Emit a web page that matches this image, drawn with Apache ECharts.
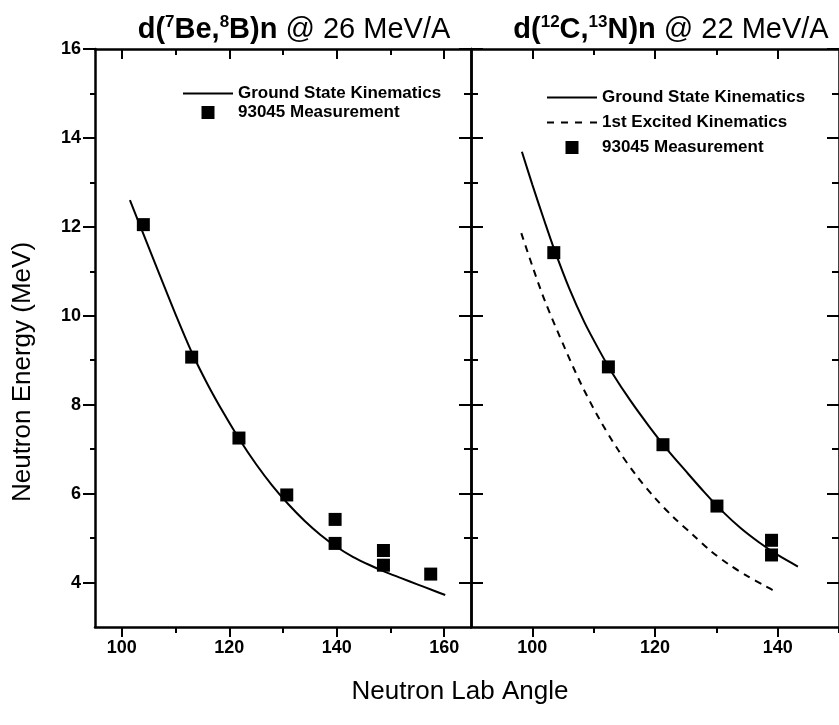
<!DOCTYPE html>
<html><head><meta charset="utf-8">
<script src="https://cdn.jsdelivr.net/npm/echarts@6/dist/echarts.min.js"></script>
<style>html,body{margin:0;padding:0;background:#fff}#c{width:839px;height:725px}</style>
</head><body><div id="c"></div>
<script>
// ---- data ----
const leftCurveAngle  = [101.5, 104, 107, 110, 113, 116, 119, 122, 125, 128, 131, 134, 137, 140, 143, 146, 149, 152, 155, 158, 160.2];
const leftCurveEnergy = [12.6, 11.84, 10.93, 10.03, 9.18, 8.45, 7.8, 7.2, 6.66, 6.18, 5.76, 5.39, 5.07, 4.8, 4.58, 4.4, 4.24, 4.1, 3.96, 3.82, 3.72];
const leftMeasAngle   = [104, 113, 121.8, 130.7, 139.7, 139.7, 148.7, 148.7, 157.5];
const leftMeasEnergy  = [12.05, 9.07, 7.25, 5.97, 5.42, 4.88, 4.72, 4.39, 4.19];

const rightGSAngle    = [98.3, 100, 102, 103.5, 106, 108.5, 110.8, 113, 116, 119, 122, 125, 128, 131, 134, 137, 140, 143.3];
const rightGSEnergy   = [13.69, 12.95, 12.12, 11.52, 10.62, 9.85, 9.25, 8.72, 8.09, 7.52, 6.99, 6.51, 6.04, 5.6, 5.22, 4.9, 4.62, 4.36];
const rightExAngle    = [98.2, 100, 102, 105.3, 108, 111, 114, 117, 120, 123, 126.2, 129, 132, 135, 138, 140];
const rightExEnergy   = [11.86, 11.12, 10.35, 9.27, 8.45, 7.66, 6.98, 6.4, 5.9, 5.47, 5.07, 4.72, 4.41, 4.15, 3.92, 3.77];
const rightMeasAngle  = [103.5, 112.4, 121.3, 130.1, 139, 139];
const rightMeasEnergy = [11.42, 8.85, 7.1, 5.72, 4.95, 4.62];

const xMajorTicks = [100, 120, 140, 160];
const xMinorTicks = [110, 130, 150];
const yMajorTicks = [4, 6, 8, 10, 12, 14, 16];
const yMinorTicks = [5, 7, 9, 11, 13, 15];

const leftTitle  = '{b|d(}{s|7}{b|Be,}{s|8}{b|B)n}{r| @ 26 MeV/A}';
const rightTitle = '{b|d(}{s|12}{b|C,}{s|13}{b|N)n}{r| @ 22 MeV/A}';
const yAxisTitle = 'Neutron Energy (MeV)';
const xAxisTitle = 'Neutron Lab Angle';
const nameGS = 'Ground State Kinematics';
const nameEx = '1st Excited Kinematics';
const nameMeas = '93045 Measurement';

// ---- chart ----
const FONT = '"Liberation Sans", Arial, sans-serif';
const chart = echarts.init(document.getElementById('c'));
const zip = (a, b) => a.map((v, i) => [v, b[i]]);
const lineCol = {color: '#000', width: 2.5};

const xAxes = [], yAxes = [];
function addAxis(list, grid, position, min, max, ticks, len, inside, opts) {
  opts = opts || {};
  list.push({
    type: 'value', gridIndex: grid, position: position, min: min, max: max,
    axisLine: {show: !!opts.line, onZero: false, lineStyle: lineCol},
    axisTick: {show: true, inside: inside, length: len, customValues: ticks, lineStyle: {color: '#000', width: 2}},
    axisLabel: opts.labels ? {show: true, customValues: ticks, color: '#000', fontSize: 18, fontWeight: 'bold', fontFamily: FONT, margin: opts.margin || 10} : {show: false},
    splitLine: {show: false}
  });
  return list.length - 1;
}
const gridRanges = [[95, 165], [90, 150]];
const axisIdx = [];
gridRanges.forEach((r, g) => {
  const xi = addAxis(xAxes, g, 'bottom', r[0], r[1], xMajorTicks.filter(v => v > r[0] && v <= r[1]), 10, false, {line: true, labels: true, margin: 12});
  addAxis(xAxes, g, 'bottom', r[0], r[1], xMinorTicks.filter(v => v > r[0] && v <= r[1]), 6, false, {});
  addAxis(xAxes, g, 'top', r[0], r[1], xMajorTicks.filter(v => v > r[0] && v < r[1]), 10, true, {line: true});
  addAxis(xAxes, g, 'top', r[0], r[1], xMinorTicks.filter(v => v > r[0] && v < r[1]), 6, true, {});
  let yi;
  if (g === 0) {
    yi = addAxis(yAxes, g, 'left', 3, 16, yMajorTicks, 12, false, {line: true, labels: true, margin: 14});
    addAxis(yAxes, g, 'left', 3, 16, yMinorTicks, 5, false, {});
  } else {
    yi = addAxis(yAxes, g, 'left', 3, 16, yMajorTicks, 12, true, {line: true});
    addAxis(yAxes, g, 'left', 3, 16, yMinorTicks, 7, true, {});
  }
  addAxis(yAxes, g, 'right', 3, 16, yMajorTicks, 12, true, {line: true});
  addAxis(yAxes, g, 'right', 3, 16, yMinorTicks, 7, true, {});
  axisIdx.push([xi, yi]);
});

const lineSeries = (name, g, xs, ys, dashed) => ({
  type: 'line', name: name, xAxisIndex: axisIdx[g][0], yAxisIndex: axisIdx[g][1],
  data: zip(xs, ys), symbol: 'none', smooth: 0.3, silent: true,
  lineStyle: {color: '#000', width: 2, type: dashed ? [7, 6] : 'solid'}, itemStyle: {color: '#000'}
});
const measSeries = (g, xs, ys) => ({
  type: 'scatter', name: nameMeas, xAxisIndex: axisIdx[g][0], yAxisIndex: axisIdx[g][1],
  data: zip(xs, ys), symbol: 'rect', symbolSize: 13, itemStyle: {color: '#000', opacity: 1}, silent: true, z: 3
});

const richTitle = {
  b: {fontSize: 29, fontWeight: 'bold', color: '#000', fontFamily: FONT, lineHeight: 32},
  s: {fontSize: 17, fontWeight: 'bold', color: '#000', fontFamily: FONT, verticalAlign: 'top', lineHeight: 32},
  r: {fontSize: 29, fontWeight: 'normal', color: '#000', fontFamily: FONT, lineHeight: 32}
};
const legendText = {fontSize: 17, fontWeight: 'bold', color: '#000', fontFamily: FONT};
const iconSolid  = 'path://M0,0h50v2h-50z';
const iconDashed = 'path://M0,0h7v2h-7z M14,0h7v2h-7z M28,0h7v2h-7z M43,0h7v2h-7z';
const iconSquare = 'path://M0,0h13v13h-13z';

chart.setOption({
  animation: false,
  backgroundColor: '#fff',
  textStyle: {fontFamily: FONT},
  title: [
    {text: leftTitle, left: 289, top: 9, textAlign: 'center', textStyle: {rich: richTitle}},
    {text: rightTitle, left: 666, top: 9, textAlign: 'center', textStyle: {rich: richTitle}},
    {text: xAxisTitle, left: 455, top: 674, textAlign: 'center', textStyle: {fontSize: 26, fontWeight: 'normal', color: '#000', fontFamily: FONT}}
  ],
  graphic: [
    {type: 'text', x: 23, y: 372, rotation: Math.PI / 2,
     style: {text: yAxisTitle, fill: '#000', font: '26px "Liberation Sans", Arial, sans-serif', align: 'center', verticalAlign: 'middle'}}
  ],
  legend: [
    {data: [{name: nameGS, icon: iconSolid}, {name: nameMeas, icon: iconSquare}], left: 183, top: 85, orient: 'vertical',
     itemWidth: 50, itemHeight: 13, itemGap: 2, selectedMode: false, textStyle: legendText, padding: 0},
    {data: [{name: nameGS, icon: iconSolid}, {name: nameEx, icon: iconDashed}, {name: nameMeas, icon: iconSquare}], left: 547, top: 89, orient: 'vertical',
     itemWidth: 50, itemHeight: 13, itemGap: 8, selectedMode: false, textStyle: legendText, padding: 0}
  ],
  grid: [
    {left: 95, top: 49, width: 376, height: 578},
    {left: 471, top: 49, width: 376, height: 578}
  ],
  xAxis: xAxes,
  yAxis: yAxes,
  series: [
    lineSeries(nameGS, 0, leftCurveAngle, leftCurveEnergy, false),
    measSeries(0, leftMeasAngle, leftMeasEnergy),
    lineSeries(nameGS, 1, rightGSAngle, rightGSEnergy, false),
    lineSeries(nameEx, 1, rightExAngle, rightExEnergy, true),
    measSeries(1, rightMeasAngle, rightMeasEnergy)
  ]
});
</script></body></html>
